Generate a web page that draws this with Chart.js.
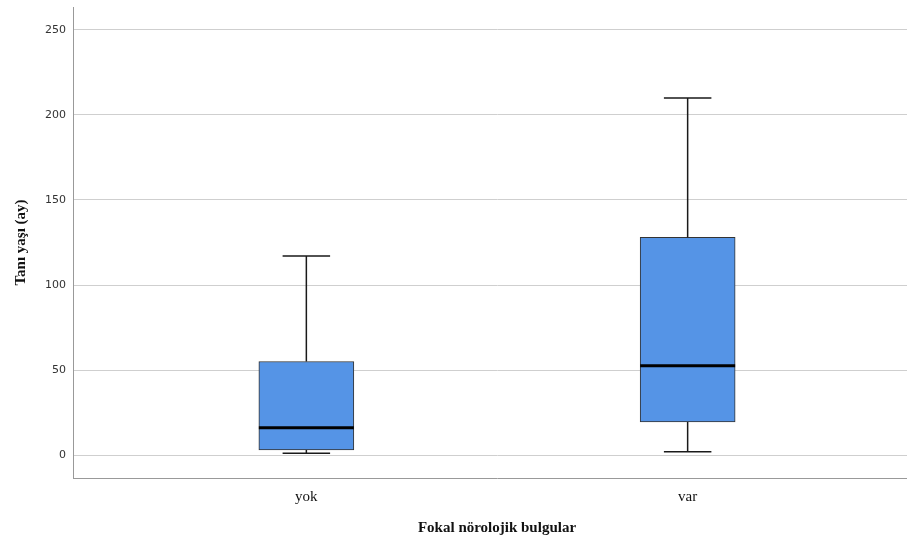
<!DOCTYPE html>
<html lang="tr">
<head>
  <meta charset="UTF-8">
  <title>Tanı yaşı - Fokal nörolojik bulgular</title>
  <script src="https://cdn.jsdelivr.net/npm/chart.js"></script>
  <style>
    body { margin: 0; padding: 0; background: #fff; overflow: hidden; }
    #wrap { width: 921px; height: 540px; }
  </style>
</head>
<body>
  <div id="wrap"><canvas id="box"></canvas></div>
  <script>
    // kutu grafiği değerleri
    const groups = ['yok', 'var'];
    const whiskerLow = [1, 2];
    const q1 = [3, 19.5];
    const median = [16, 52.5];
    const q3 = [55, 128];
    const whiskerHigh = [117, 210];
    const yTicks = [0, 50, 100, 150, 200, 250];

    const serif = '"Liberation Serif", "Times New Roman", serif';
    const sans = '"DejaVu Sans", sans-serif';

    // bıyıklar ve medyan çizgisi
    const boxExtras = {
      id: 'boxExtras',
      afterDatasetsDraw(chart) {
        const ctx = chart.ctx;
        const x = chart.scales.x, y = chart.scales.y;
        const meta = chart.getDatasetMeta(0);
        ctx.save();
        groups.forEach((g, i) => {
          const bar = meta.data[i];
          const cx = x.getPixelForValue(i + 1);
          const half = bar.width / 2;
          const cap = half / 2;
          ctx.strokeStyle = '#1a1a1a';
          ctx.lineWidth = 1.5;
          ctx.beginPath();
          ctx.moveTo(cx, y.getPixelForValue(q3[i]));
          ctx.lineTo(cx, y.getPixelForValue(whiskerHigh[i]));
          ctx.moveTo(cx - cap, y.getPixelForValue(whiskerHigh[i]));
          ctx.lineTo(cx + cap, y.getPixelForValue(whiskerHigh[i]));
          ctx.moveTo(cx, y.getPixelForValue(q1[i]));
          ctx.lineTo(cx, y.getPixelForValue(whiskerLow[i]));
          ctx.moveTo(cx - cap, y.getPixelForValue(whiskerLow[i]));
          ctx.lineTo(cx + cap, y.getPixelForValue(whiskerLow[i]));
          ctx.stroke();
          ctx.strokeStyle = '#000';
          ctx.lineWidth = 3;
          ctx.beginPath();
          ctx.moveTo(cx - half, y.getPixelForValue(median[i]));
          ctx.lineTo(cx + half, y.getPixelForValue(median[i]));
          ctx.stroke();
        });
        ctx.restore();
      }
    };

    new Chart(document.getElementById('box'), {
      type: 'bar',
      data: {
        datasets: [{
          data: groups.map((g, i) => ({ x: i + 1, y: [q1[i], q3[i]] })),
          backgroundColor: '#5594e6',
          borderColor: '#333',
          borderWidth: 1,
          borderSkipped: false,
          barThickness: 95
        }]
      },
      options: {
        responsive: true,
        maintainAspectRatio: false,
        animation: false,
        layout: { padding: { top: 7, left: 0, right: 0, bottom: 0 } },
        plugins: { legend: { display: false }, tooltip: { enabled: false } },
        scales: {
          x: {
            type: 'linear',
            offset: false,
            min: 0.388,
            max: 2.612,
            afterBuildTicks: s => { s.ticks = groups.map((g, i) => ({ value: i + 1 })); },
            afterFit: s => { s.height = 62; s.paddingLeft = 0; s.paddingRight = 0; },
            ticks: {
              callback: v => groups[v - 1],
              font: { family: serif, size: 15 },
              color: '#111',
              padding: 2,
              maxRotation: 0
            },
            grid: { display: false, offset: false },
            border: { display: true, color: '#999', width: 1 },
            title: {
              display: true,
              text: 'Fokal nörolojik bulgular',
              font: { family: serif, size: 15, weight: 'bold' },
              color: '#111',
              padding: { top: 0, bottom: 3 }
            }
          },
          y: {
            min: -13.5,
            max: 263.5,
            afterBuildTicks: s => { s.ticks = yTicks.map(v => ({ value: v })); },
            afterFit: s => { s.width = 73; s.paddingTop = 0; s.paddingBottom = 0; },
            ticks: {
              font: { family: sans, size: 11 },
              color: '#333',
              padding: 7
            },
            grid: { color: '#cfcfcf', lineWidth: 1, drawTicks: false },
            border: { display: true, color: '#999', width: 1 },
            title: {
              display: true,
              text: 'Tanı yaşı (ay)',
              font: { family: serif, size: 15, weight: 'bold' },
              color: '#111',
              padding: { top: 12, bottom: 0 }
            }
          }
        }
      },
      plugins: [boxExtras]
    });
  </script>
</body>
</html>
